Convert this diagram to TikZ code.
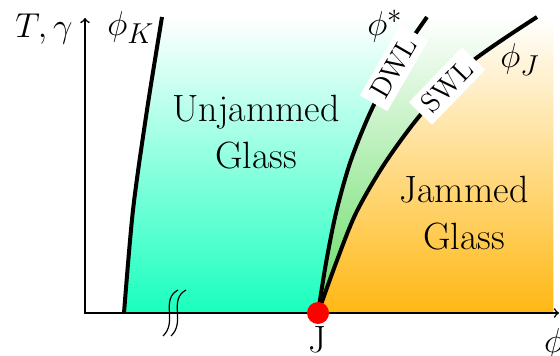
\documentclass[tikz,border=0pt]{standalone}
\usepackage{tikz}
\definecolor{unjamcol}{RGB}{25,255,190}
\definecolor{jamcol}{RGB}{255,184,20}
\definecolor{dwlcol}{RGB}{100,220,100}
\tikzset{
  phaseline/.style={line width=2pt},
  bigtext/.style={font=\fontsize{19}{23.5}\selectfont},
  wlbox/.style={fill=white, font=\fontsize{14}{16}\selectfont, inner xsep=4pt, inner ysep=3pt},
}
\begin{document}
\begin{tikzpicture}[x=0.5pt, y=-0.5pt, >=to]
    \useasboundingbox (0,0) rectangle (560,356);
    \shade[top color=white, bottom color=unjamcol] plot[smooth] coordinates {(124,313) (133,210) (147,110) (162,17)} -- (553,17) -- (553,313) -- cycle;
    \shade[top color=white, bottom color=dwlcol] plot[smooth] coordinates {(318,313) (326,263) (336,213) (350,163) (370,113) (396,63) (427,17)} -- (553,17) -- (553,313) -- cycle;
    \shade[top color=white, bottom color=jamcol] plot[smooth] coordinates {(318,313) (336,263) (356,213) (385,163) (422,113) (470,63) (537,17)} -- (553,17) -- (553,313) -- cycle;
    \draw[phaseline] plot[smooth] coordinates {(124,313) (133,210) (147,110) (162,17)};
    \draw[phaseline] plot[smooth] coordinates {(318,313) (326,263) (336,213) (350,163) (370,113) (396,63) (427,17)};
    \draw[phaseline] plot[smooth] coordinates {(318,313) (336,263) (356,213) (385,163) (422,113) (470,63) (537,17)};
    \draw[thick, ->] (85,313) -- (85,18);
    \draw[thick, ->] (84,313) -- (559,313);
    \draw[line width=0.6pt] (163,336) .. controls (178,322) and (160,300) .. (178,290);
    \draw[line width=0.6pt] (171,336) .. controls (186,322) and (168,300) .. (186,290);
    \node[circle, fill=red, inner sep=0pt, minimum size=11pt] (jpoint) at (318,313) {};
    \node[bigtext, anchor=base] (jlabel) at (317,353) {J};
    \node[bigtext, anchor=base] (tgamma) at (44,38) {$T,\gamma$};
    \node[bigtext, anchor=base] (phik) at (131,36) {$\phi_K$};
    \node[bigtext, anchor=base] (phistar) at (385,36) {$\phi^*$};
    \node[bigtext, anchor=base] (phij) at (520,68) {$\phi_J$};
    \node[bigtext, anchor=base] (phiaxis) at (554,353) {$\phi$};
    \node[bigtext, align=center] (unjammed) at (256,132) {Unjammed\\Glass};
    \node[bigtext, align=center] (jammed) at (464,213) {Jammed\\Glass};
    \node[wlbox, rotate=60] (dwl) at (394,68) {DWL};
    \node[wlbox, rotate=46] (swl) at (447,86) {SWL};
\end{tikzpicture}
\end{document}
